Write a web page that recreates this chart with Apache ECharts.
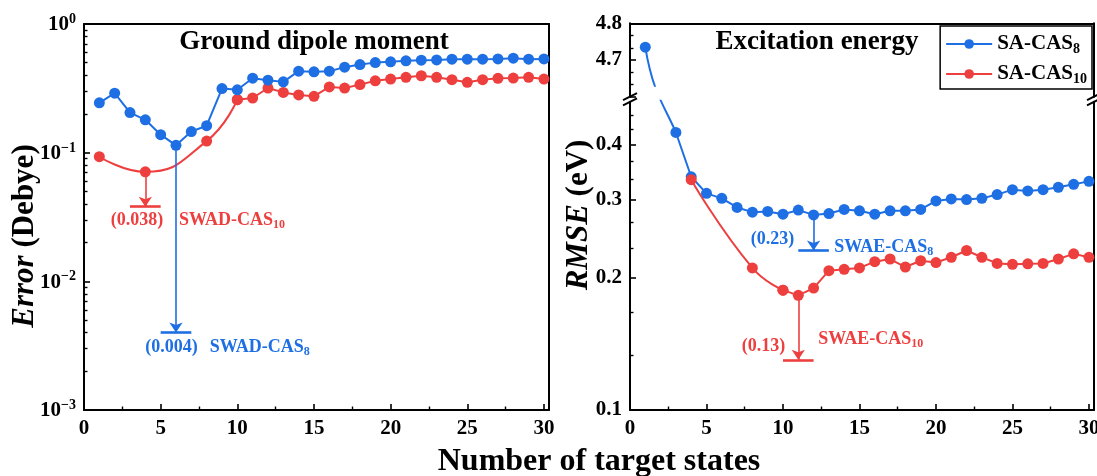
<!DOCTYPE html>
<html>
<head>
<meta charset="utf-8">
<script src="https://cdn.jsdelivr.net/npm/echarts@6/dist/echarts.min.js"></script>
<style>
  html, body { margin: 0; padding: 0; background: #fff; }
  #chart { width: 1097px; height: 476px; }
</style>
</head>
<body>
<div id="chart"></div>
<script>
// ---- data ----------------------------------------------------------------
// Ground-state dipole moment error (Debye) vs. number of target states
const cas8DipoleStates = [1, 2, 3, 4, 5, 6, 7, 8, 9, 10, 11, 12, 13, 14, 15, 16, 17, 18, 19, 20, 21, 22, 23, 24, 25, 26, 27, 28, 29, 30];
const cas8Dipole = [0.244, 0.290, 0.205, 0.180, 0.138, 0.114, 0.146, 0.162, 0.315, 0.308,
                    0.379, 0.366, 0.355, 0.430, 0.425, 0.430, 0.462, 0.484, 0.501, 0.508,
                    0.517, 0.523, 0.526, 0.533, 0.533, 0.533, 0.535, 0.542, 0.533, 0.535];
const cas10DipoleStates = [1, 4, 8, 10, 11, 12, 13, 14, 15, 16, 17, 18, 19, 20, 21, 22, 23, 24, 25, 26, 27, 28, 29, 30];
const cas10Dipole = [0.093, 0.071, 0.123, 0.258, 0.266, 0.318, 0.294, 0.281, 0.274, 0.324,
                     0.318, 0.338, 0.362, 0.373, 0.385, 0.396, 0.385, 0.369, 0.352, 0.369,
                     0.378, 0.380, 0.385, 0.373];

// Excitation energy RMSE (eV) vs. number of target states
const cas8RmseStates = [1, 3, 4, 5, 6, 7, 8, 9, 10, 11, 12, 13, 14, 15, 16, 17, 18, 19, 20, 21, 22, 23, 24, 25, 26, 27, 28, 29, 30];
const cas8Rmse = [4.735, 0.426, 0.338, 0.310, 0.302, 0.288, 0.281, 0.282, 0.278, 0.284,
                  0.277, 0.279, 0.285, 0.283, 0.278, 0.283, 0.283, 0.285, 0.298, 0.301,
                  0.300, 0.302, 0.308, 0.316, 0.314, 0.316, 0.320, 0.325, 0.330];
const cas10RmseStates = [4, 8, 10, 11, 12, 13, 14, 15, 16, 17, 18, 19, 20, 21, 22, 23, 24, 25, 26, 27, 28, 29, 30];
const cas10Rmse = [0.333, 0.210, 0.187, 0.182, 0.189, 0.207, 0.2085, 0.210, 0.217, 0.220,
                   0.211, 0.218, 0.216, 0.222, 0.230, 0.222, 0.215, 0.214, 0.2145, 0.215,
                   0.220, 0.226, 0.222];

// State-weighted reference results
const swadCas8 = 0.004, swadCas10 = 0.038;
const swaeCas8 = 0.23, swaeCas10 = 0.13;

// Axis ticks
const xTicks = [0, 5, 10, 15, 20, 25, 30];
const rmseTicks = [0.1, 0.2, 0.3, 0.4];
const rmseMinorTicks = [0.1333, 0.1667, 0.2333, 0.2667, 0.3333, 0.3667, 0.4333, 0.4667];

// ---- styling ---------------------------------------------------------------
const FONT = '"Liberation Serif", "Times New Roman", serif';
const BLUE = '#1e6fe3';
const RED = '#ee3f3f';
const X_MAX = 30.33;

const axisLine = { show: true, onZero: false, lineStyle: { color: '#000', width: 2 } };
const majorTick = { show: true, inside: true, length: 6, lineStyle: { color: '#000', width: 1.6 } };
const minorTick = (n) => ({ show: true, splitNumber: n, length: 3.5, lineStyle: { color: '#000', width: 1.4 } });
const tickLabel = { color: '#000', fontFamily: FONT, fontWeight: 'bold', fontSize: 21 };

const pairs = (xs, ys) => xs.map((x, i) => [x, ys[i]]);

function borderX(gridIndex) {
  return { type: 'value', gridIndex, position: 'top', min: 0, max: 1, axisLine,
           axisTick: { show: false }, axisLabel: { show: false }, splitLine: { show: false } };
}
function borderY(gridIndex) {
  return { type: 'value', gridIndex, position: 'right', min: 0, max: 1, axisLine,
           axisTick: { show: false }, axisLabel: { show: false }, splitLine: { show: false } };
}
function mainX(gridIndex) {
  return {
    type: 'value', gridIndex, position: 'bottom', min: 0, max: X_MAX, interval: 5,
    axisLine, axisTick: majorTick, minorTick: minorTick(2),
    splitLine: { show: false }, minorSplitLine: { show: false },
    axisLabel: { ...tickLabel, margin: 8, showMaxLabel: false,
                 formatter: (v) => (xTicks.indexOf(v) >= 0 ? String(v) : '') }
  };
}

const subRich = (color, size) => ({
  sub: { fontFamily: FONT, fontWeight: 'bold', fontSize: size, color, verticalAlign: 'bottom', lineHeight: size }
});

// arrow from the best point down to the reference value, plus a short bar at that value
function refMarks(color, x, from, to, valueAt, nameAt, name) {
  const lbl = (txt, at) => ({
    coord: at,
    label: {
      show: true, position: 'right', distance: 0, formatter: txt,
      color, fontFamily: FONT, fontWeight: 'bold', fontSize: 18, lineHeight: 21, rich: subRich(color, 12)
    }
  });
  return {
    markLine: {
      silent: true, animation: false, symbol: ['none', 'arrow'], symbolSize: 10,
      label: { show: false },
      lineStyle: { color, width: 1.6, type: 'solid' },
      data: [
        [{ coord: [x, from] }, { coord: [x, to] }],
        [{ coord: [x - 1, to], symbol: 'none', lineStyle: { width: 2.6 } }, { coord: [x + 1, to], symbol: 'none' }]
      ]
    },
    markPoint: {
      silent: true, animation: false, symbol: 'circle', symbolSize: 0,
      data: [lbl('(' + to + ')', valueAt), lbl(name.replace(/(\d+)$/, '{sub|$1}'), nameAt)]
    }
  };
}

function lineSeries(name, color, xAxisIndex, yAxisIndex, data, extra) {
  return Object.assign({
    type: 'line', name, xAxisIndex, yAxisIndex, data,
    symbol: 'circle', symbolSize: 11, showSymbol: true, clip: true,
    lineStyle: { color, width: 2 }, itemStyle: { color },
    emphasis: { disabled: true }, animation: false
  }, extra || {});
}

const argmin = (arr) => arr.indexOf(Math.min.apply(null, arr));

// ---- series ----------------------------------------------------------------
const iDip8 = argmin(cas8Dipole);
const iDip10 = argmin(cas10Dipole);
const iEx8 = argmin(cas8Rmse);
const iEx10 = argmin(cas10Rmse);

const dip10 = pairs(cas10DipoleStates, cas10Dipole);
const ex10 = pairs(cas10RmseStates, cas10Rmse);
const ex8 = pairs(cas8RmseStates, cas8Rmse);
const ex8Upper = ex8.filter((p) => p[1] > 1);
const ex8Lower = ex8.filter((p) => p[1] <= 1);

const series = [
  // ground dipole moment panel
  lineSeries('SA-CAS10', RED, 0, 0, dip10.filter((p) => p[0] <= 10), Object.assign({ smooth: 0.5 },
    refMarks(RED, cas10DipoleStates[iDip10], cas10Dipole[iDip10], swadCas10, [1.75, 0.0300], [6.2, 0.0300], 'SWAD-CAS10'))),
  lineSeries('SA-CAS10', RED, 0, 0, dip10.filter((p) => p[0] >= 10)),
  lineSeries('SA-CAS8', BLUE, 0, 0, pairs(cas8DipoleStates, cas8Dipole),
    refMarks(BLUE, cas8DipoleStates[iDip8], cas8Dipole[iDip8], swadCas8, [4.0, 0.00305], [8.2, 0.00305], 'SWAD-CAS8')),
  // excitation energy panel (upper and lower parts of the broken axis)
  lineSeries('SA-CAS8', BLUE, 2, 2, ex8Upper),
  lineSeries('SA-CAS8', BLUE, 4, 4, ex8Lower,
    refMarks(BLUE, cas8RmseStates[iEx8], cas8Rmse[iEx8], swaeCas8, [7.9, 0.2435], [13.35, 0.2335], 'SWAE-CAS8')),
  lineSeries('SA-CAS10', RED, 4, 4, ex10.filter((p) => p[0] <= 10), Object.assign({ smooth: 0.5 },
    refMarks(RED, cas10RmseStates[iEx10], cas10Rmse[iEx10], swaeCas10, [7.3, 0.1395], [12.3, 0.1445], 'SWAE-CAS10'))),
  lineSeries('SA-CAS10', RED, 4, 4, ex10.filter((p) => p[0] >= 10))
];
const S_EX8_UP = 3, S_EX8_LOW = 4;

// ---- chart -----------------------------------------------------------------
const chart = echarts.init(document.getElementById('chart'));

const supLabel = (v) => {
  const e = Math.round(Math.log10(v));
  return '{b|10}{s|' + (e < 0 ? '\u2212' + (-e) : e) + '}';
};

chart.setOption({
  animation: false,
  backgroundColor: '#fff',
  grid: [
    { left: 84, top: 24, width: 465, height: 386, outerBoundsMode: 'none' },
    { left: 630, top: 23.3, width: 464, height: 73.4, outerBoundsMode: 'none' },
    { left: 630, top: 101.8, width: 464, height: 308.2, outerBoundsMode: 'none' }
  ],
  xAxis: [
    mainX(0),
    borderX(0),
    Object.assign(mainX(1), { show: false }),
    borderX(1),
    mainX(2)
  ],
  yAxis: [
    {
      type: 'log', logBase: 10, gridIndex: 0, position: 'left', min: 0.001, max: 1,
      axisLine, axisTick: majorTick, minorTick: minorTick(9),
      splitLine: { show: false }, minorSplitLine: { show: false },
      axisLabel: {
        ...tickLabel, margin: 8, formatter: supLabel,
        rich: {
          b: { fontFamily: FONT, fontWeight: 'bold', fontSize: 21, color: '#000', lineHeight: 23, verticalAlign: 'bottom' },
          s: { fontFamily: FONT, fontWeight: 'bold', fontSize: 14, color: '#000', lineHeight: 14, verticalAlign: 'top' }
        }
      }
    },
    borderY(0),
    {
      type: 'value', gridIndex: 1, position: 'left', min: 4.6, max: 4.8, interval: 0.1,
      axisLine, axisTick: majorTick, minorTick: minorTick(3),
      splitLine: { show: false }, minorSplitLine: { show: false },
      axisLabel: { ...tickLabel, margin: 8, formatter: (v) => (v > 4.65 ? v.toFixed(1) : '') }
    },
    borderY(1),
    {
      type: 'log', logBase: 10, gridIndex: 2, position: 'left', min: 0.1, max: 0.5,
      axisLine, axisTick: Object.assign({}, majorTick, { customValues: rmseTicks }),
      minorTick: { show: false }, splitLine: { show: false },
      axisLabel: { ...tickLabel, margin: 8, customValues: rmseTicks, formatter: (v) => v.toFixed(1) }
    },
    {
      type: 'log', logBase: 10, gridIndex: 2, position: 'left', min: 0.1, max: 0.5,
      axisLine: { show: false },
      axisTick: { show: true, inside: true, length: 3.5, customValues: rmseMinorTicks, lineStyle: { color: '#000', width: 1.4 } },
      minorTick: { show: false }, splitLine: { show: false }, axisLabel: { show: false }
    },
    borderY(2)
  ],
  legend: {
    data: ['SA-CAS8', 'SA-CAS10'],
    orient: 'vertical', right: 5, top: 26,
    itemWidth: 46, itemHeight: 12, itemGap: 6,
    padding: [6, 5, 3, 5],
    borderColor: '#000', borderWidth: 1.5, backgroundColor: '#fff',
    selectedMode: false,
    formatter: (n) => n.replace(/(\d+)$/, '{sub|$1}'),
    textStyle: { fontFamily: FONT, fontWeight: 'bold', fontSize: 21, color: '#000', lineHeight: 24, rich: subRich('#000', 14) }
  },
  series
});

// decorations that depend on the laid-out axes
const p1 = chart.convertToPixel({ seriesIndex: S_EX8_UP }, ex8Upper[ex8Upper.length - 1]);
const p3 = chart.convertToPixel({ seriesIndex: S_EX8_LOW }, ex8Lower[0]);
const upperBottom = chart.convertToPixel({ yAxisIndex: 2 }, 4.6);
const lowerTop = chart.convertToPixel({ yAxisIndex: 4 }, 0.5);
const xLeft = chart.convertToPixel({ xAxisIndex: 4 }, 0);
const xRight = chart.convertToPixel({ xAxisIndex: 4 }, X_MAX);

const dx = p3[0] - p1[0], dy = p3[1] - p1[1];
const breakMark = (x, y) => ({
  type: 'line', z: 20, silent: true,
  shape: { x1: x - 7, y1: y + 3.5, x2: x + 7, y2: y - 3.5 },
  style: { stroke: '#000', lineWidth: 2 }
});
const richItalic = (size) => ({ i: { fontFamily: FONT, fontWeight: 'bold', fontStyle: 'italic', fontSize: size, fill: '#000' } });
const text = (x, y, str, size, extra) => Object.assign({
  type: 'text', x, y, silent: true, z: 20,
  style: {
    text: str, fontFamily: FONT, fontWeight: 'bold', fontSize: size, fill: '#000',
    align: 'center', verticalAlign: 'middle', rich: richItalic(size)
  }
}, extra || {});

chart.setOption({
  graphic: [
    {
      type: 'bezierCurve', z: 5, silent: true,
      shape: { x1: p1[0], y1: p1[1], x2: p3[0], y2: p3[1],
               cpx1: p1[0] + 0.25 * dx, cpy1: p1[1] + 0.55 * dy,
               cpx2: p3[0] - 0.35 * dx, cpy2: p3[1] - 0.3 * dy },
      style: { stroke: BLUE, lineWidth: 2, fill: null }
    },
    {
      type: 'rect', z: 6, silent: true,
      shape: { x: Math.min(p1[0], p3[0]) - 4, y: upperBottom - 10, width: Math.abs(dx) + 8, height: lowerTop - upperBottom + 8 },
      style: { fill: '#fff' }
    },
    breakMark(xLeft, upperBottom), breakMark(xLeft, lowerTop),
    breakMark(xRight, upperBottom), breakMark(xRight, lowerTop),
    text(314, 42, 'Ground dipole moment', 27),
    text(817, 42, 'Excitation energy', 27),
    text(599, 462, 'Number of target states', 32),
    text(25, 236, '{i|Error} (Debye)', 31, { rotation: Math.PI / 2 }),
    text(579, 215, '{i|RMSE} (eV)', 31, { rotation: Math.PI / 2 })
  ]
});
</script>
</body>
</html>
